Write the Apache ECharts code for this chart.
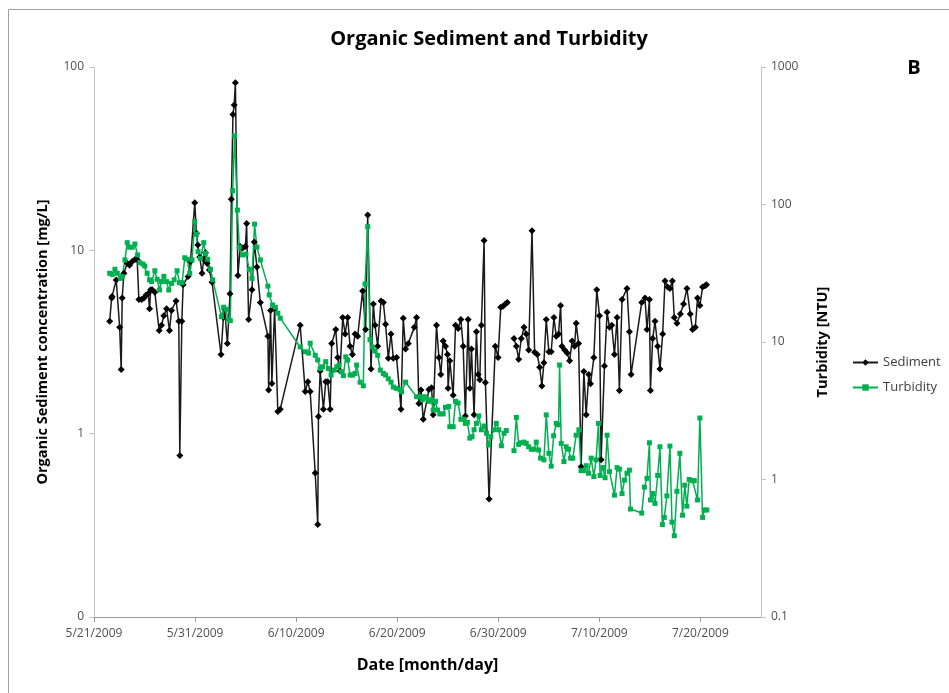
<!DOCTYPE html>
<html>
<head>
<meta charset="utf-8">
<script src="https://cdn.jsdelivr.net/npm/echarts@6/dist/echarts.min.js"></script>
<style>
html,body{margin:0;padding:0;background:#fff;}
#chart{width:949px;height:693px;}
</style>
</head>
<body>
<div id="chart"></div>
<script>
// Days after 5/21/2009 for each sediment sample, and values [mg/L] (null = gap)
var sedDays = [
1.55,1.75,1.78,2.20,2.54,2.69,2.79,2.96,3.29,3.52,
3.78,4.05,4.27,4.44,4.71,4.94,5.16,5.36,5.50,5.60,
5.76,6.02,6.45,6.68,6.91,7.18,7.47,7.67,8.12,8.39,
8.49,8.69,8.82,9.31,9.55,9.97,10.14,10.27,10.46,10.69,
10.86,11.03,11.18,11.42,11.68,12.57,12.80,12.93,13.20,13.46,
13.59,13.75,13.87,13.99,14.24,14.48,14.71,14.98,15.10,15.30,
15.63,15.86,16.12,16.46,17.21,17.28,17.47,17.60,17.87,18.19,
18.43,20.40,20.90,21.16,21.39,21.89,22.14,22.21,22.38,22.70,
22.93,23.13,23.37,23.52,23.92,24.12,24.35,24.61,24.85,25.10,
25.34,25.57,25.83,26.09,26.58,26.88,27.08,27.41,27.64,27.81,
28.07,28.40,28.63,28.85,29.12,29.39,29.62,29.94,30.38,30.60,
30.83,31.10,31.69,31.92,32.15,32.35,32.58,33.14,33.40,33.56,
33.89,34.13,34.32,34.55,34.78,34.98,35.04,35.21,35.54,35.77,
36.03,36.30,36.53,36.75,37.02,37.19,37.35,37.61,37.84,38.01,
38.17,38.33,38.60,38.73,39.09,39.71,39.98,40.25,40.47,40.70,
40.90,41.20,41.56,41.79,42.02,42.28,42.55,42.77,43.01,43.34,
43.60,43.86,44.10,44.32,44.52,44.75,45.01,45.24,45.51,45.74,
45.97,46.17,46.30,46.57,46.82,47.06,47.31,47.55,47.71,47.95,
48.20,48.47,48.70,48.96,49.13,49.46,49.75,50.02,50.18,50.51,
50.77,51.01,51.23,51.50,51.76,51.99,52.25,52.74,52.98,53.14,
54.20,54.52,54.72,54.96,55.06,55.28,55.51,55.78,56.00,56.27,
56.50,56.76,56.99,57.23,57.42,57.68,58.02,58.34,58.67,59.00,
59.23,59.50,59.72,59.95,60.22,60.45,60.61
];
var sedVals = [
4.1,5.5,5.6,6.9,3.8,2.24,5.5,7.5,8.5,8.3,
8.7,8.9,8.9,5.4,5.4,5.5,5.7,5.8,4.8,6.1,
6.1,5.9,3.65,3.9,4.4,4.8,3.65,4.7,5.3,4.1,
0.76,4.1,6.5,7.2,8.7,18.2,12.4,10.7,9.2,7.5,
8.9,9.7,8.5,7.8,6.7,2.7,4.3,4.8,3.1,5.8,
19,55,62,82,7.3,10.5,10.3,10.5,14,4.2,
6.1,11.1,8.1,5.2,3.4,1.73,4.7,1.88,4.8,1.32,
1.36,3.9,1.7,1.92,1.7,0.61,0.32,1.24,2.2,1.36,
1.92,1.92,1.36,3.1,3.7,2.6,2.2,4.3,3.5,4.3,
3.0,2.7,3.5,3.4,6.0,3.7,15.6,2.25,5.1,3.9,
3.0,5.3,5.2,3.95,2.58,3.5,2.58,2.6,1.36,4.26,
2.9,3.1,3.8,4.3,1.46,1.73,1.2,1.74,1.78,1.27,
3.9,2.6,2.1,3.2,3.0,2.7,1.77,2.5,1.62,3.9,
3.75,4.2,3.0,1.25,4.2,1.77,2.9,1.27,3.6,2.1,
1.97,3.9,11.3,1.9,0.44,3.0,2.6,4.9,4.95,5.1,
5.2,null,3.3,3.0,2.55,3.3,3.8,3.5,2.86,12.8,
2.78,2.7,2.3,1.82,2.44,4.2,2.8,2.8,4.3,3.4,
3.5,5.0,3.0,2.86,2.75,2.5,3.2,3.0,4.0,3.1,
0.66,2.18,1.27,2.1,1.87,2.6,6.1,4.4,0.72,2.34,
4.6,3.8,3.9,2.7,4.3,1.72,5.4,6.2,3.6,2.1,
5.2,5.5,3.7,5.4,1.72,3.3,4.1,3.0,2.25,3.5,
6.8,6.3,6.2,6.8,4.3,4.0,4.5,5.1,6.2,4.5,
3.7,3.8,5.5,5.0,6.3,6.4,6.5
];
// Days after 5/21/2009 for each turbidity reading, and values [NTU] (null = gap)
var turbDays = [
1.55,1.81,2.07,2.30,2.64,2.79,3.06,3.29,3.52,3.78,
4.05,4.31,4.54,4.84,5.03,5.26,5.50,5.70,6.02,6.25,
6.49,6.68,6.91,7.18,7.40,7.67,7.93,8.22,8.46,8.72,
8.98,9.21,9.48,9.70,9.97,10.14,10.30,10.53,10.86,11.03,
11.25,11.52,11.75,12.61,12.83,13.06,13.26,13.49,13.72,13.92,
14.19,14.38,14.71,15.03,15.37,15.63,15.89,16.12,16.46,17.21,
17.34,17.67,17.94,18.19,18.43,20.40,20.90,21.22,21.39,21.89,
22.14,22.38,22.61,22.93,23.20,23.46,23.79,24.02,24.25,24.45,
24.68,24.91,25.10,25.34,25.60,25.83,25.99,26.33,26.65,26.82,
27.08,27.31,27.54,27.81,28.07,28.33,28.63,28.85,29.12,29.39,
29.62,29.94,30.28,30.43,30.83,31.92,32.25,32.48,32.68,32.90,
33.14,33.40,33.56,33.79,33.99,34.22,34.55,34.78,35.11,35.21,
35.54,35.77,36.03,36.30,36.62,36.75,36.95,37.19,37.41,37.61,
37.84,38.08,38.33,38.60,38.83,39.06,39.26,39.59,39.81,40.05,
40.31,40.57,40.80,41.20,41.56,41.79,42.02,42.28,42.55,42.77,
43.01,43.27,43.53,43.76,44.00,44.19,44.52,44.75,45.01,45.24,
45.48,45.74,45.97,46.07,46.23,46.50,46.72,46.96,47.16,47.38,
47.71,47.98,48.20,48.47,48.70,48.93,49.19,49.46,49.68,49.92,
50.08,50.35,50.57,50.77,51.01,51.50,51.76,51.99,52.25,52.49,
52.74,52.98,53.08,54.20,54.46,54.72,54.96,55.06,55.28,55.51,
55.78,56.00,56.24,56.43,56.69,56.99,57.19,57.42,57.68,57.97,
58.24,58.46,58.66,58.90,59.23,59.40,59.72,59.95,60.22,60.38,
60.64
];
var turbVals = [
31.6,31,33.8,31.6,29,30,39.5,52.8,48.9,48.9,
51.6,43,37.8,36.9,35.7,31.6,28.3,27.5,33,28.6,
23.9,27.5,30,27.5,23.9,26.7,28.3,33,27,27,
41,40,31.6,39.5,75,60.7,45.4,40.6,52.8,44,
40,33.8,28.3,15.3,17.9,17.3,14.6,14.3,126,316,
91,49,43,43.6,33.8,29,72,49,39.5,25.5,
22,18.6,17.9,16.2,14.9,9.2,8.5,8.3,9.8,8.0,
7.4,6.4,6.6,7.2,6.4,5.75,6.25,6.6,6.8,6.1,
5.7,7.8,7.4,5.75,5.75,5.9,6.8,5.1,4.8,26.4,
69,10.4,9.2,8.6,8.0,6.25,5.9,5.75,5.4,5.1,
4.7,4.6,4.5,4.35,5.1,4.0,4.0,3.8,4.0,3.9,
3.7,3.8,3.2,3.7,3.2,3.0,3.0,3.35,3.4,2.42,
2.42,3.7,3.6,2.74,2.74,2.56,2.6,2.0,2.05,2.3,
2.56,2.9,2.3,2.45,2.17,1.78,2.05,2.3,2.56,2.3,
1.76,2.17,2.27,null,1.62,2.83,1.8,1.85,1.87,1.83,
1.73,1.66,1.66,1.87,1.64,1.43,1.39,2.95,1.55,1.25,
2.08,2.56,2.5,6.8,1.83,1.35,1.73,1.66,1.43,1.43,
2.1,2.3,1.16,1.16,1.26,1.11,1.43,1.05,1.39,2.56,
1.07,1.22,1.03,2.1,1.14,0.77,1.22,1.19,0.79,0.99,
1.11,1.17,0.61,0.57,0.88,1.02,1.85,0.71,0.79,0.67,
1.07,1.73,0.47,0.53,0.76,1.75,0.49,0.39,0.82,1.55,
0.55,0.91,0.64,1.0,0.98,0.98,0.71,2.8,0.53,0.6,
0.6
];
var startDate = Date.UTC(2009, 4, 21);
var leftTicks = [0.1, 1, 10, 100];
var rightTicks = [0.1, 1, 10, 100, 1000];

function pairs(days, vals) {
  var out = [];
  for (var i = 0; i < days.length; i++) {
    out.push([days[i], vals[i] == null ? '-' : vals[i]]);
  }
  return out;
}
function dateLabel(v) {
  var d = new Date(startDate + v * 86400000);
  return (d.getUTCMonth() + 1) + '/' + d.getUTCDate() + '/' + d.getUTCFullYear();
}

var FONT = '"Open Sans", "Liberation Sans", Arial, sans-serif';
var chart = echarts.init(document.getElementById('chart'), null, {renderer: 'canvas'});
chart.setOption({
  animation: false,
  backgroundColor: '#fff',
  textStyle: {fontFamily: FONT},
  title: {
    text: 'Organic Sediment and Turbidity',
    left: 484, top: 24, textAlign: 'center',
    textStyle: {fontFamily: FONT, fontSize: 20, fontWeight: 'bold', color: '#000'}
  },
  graphic: [
    {type: 'rect', shape: {x: 8.5, y: 9.5, width: 1000, height: 1000}, style: {fill: 'none', stroke: '#a0a0a0', lineWidth: 1}, silent: true},
    {type: 'text', x: 914, y: 68, style: {text: 'B', fontFamily: FONT, fontSize: 20, fontWeight: 'bold', fill: '#000', textAlign: 'center', textVerticalAlign: 'middle'}}
  ],
  legend: {
    orient: 'vertical', left: 847, top: 351,
    itemWidth: 25, itemHeight: 8, itemGap: 12,
    textStyle: {fontFamily: FONT, fontSize: 13, color: '#404040'},
    data: ['Sediment', 'Turbidity']
  },
  grid: {left: 94, right: 188, top: 67, bottom: 76},
  xAxis: {
    type: 'value', min: 0, max: 66, interval: 10,
    name: 'Date [month/day]', nameLocation: 'middle', nameGap: 40,
    nameTextStyle: {fontFamily: FONT, fontSize: 16, fontWeight: 'bold', color: '#000'},
    axisLine: {lineStyle: {color: '#9a9a9a', width: 1}},
    axisTick: {length: 5, lineStyle: {color: '#9a9a9a'}},
    splitLine: {show: false},
    axisLabel: {formatter: dateLabel, showMaxLabel: false, margin: 11, fontSize: 12, color: '#505050', fontFamily: FONT}
  },
  yAxis: [
    {
      type: 'log', logBase: 10, min: leftTicks[0], max: leftTicks[leftTicks.length - 1],
      position: 'left',
      name: 'Organic Sediment concentration [mg/L]', nameLocation: 'middle', nameGap: 44, nameRotate: 90,
      nameTextStyle: {fontFamily: FONT, fontSize: 14.5, fontWeight: 'bold', color: '#000'},
      axisLine: {show: true, lineStyle: {color: '#c4c4c4', width: 1}},
      axisTick: {show: true, length: 5, lineStyle: {color: '#c4c4c4'}},
      splitLine: {show: false},
      axisLabel: {formatter: function (v) { return String(Math.round(v)); }, margin: 10, fontSize: 12, color: '#505050', fontFamily: FONT}
    },
    {
      type: 'log', logBase: 10, min: rightTicks[0], max: rightTicks[rightTicks.length - 1],
      position: 'right',
      name: 'Turbidity [NTU]', nameLocation: 'middle', nameGap: 54, nameRotate: 90,
      nameTextStyle: {fontFamily: FONT, fontSize: 14.5, fontWeight: 'bold', color: '#000'},
      axisLine: {show: true, lineStyle: {color: '#c4c4c4', width: 1}},
      axisTick: {show: true, length: 5, lineStyle: {color: '#c4c4c4'}},
      splitLine: {show: false},
      axisLabel: {formatter: function (v) { return String(+v.toPrecision(3)); }, margin: 10, fontSize: 12, color: '#505050', fontFamily: FONT}
    }
  ],
  series: [
    {
      name: 'Sediment', type: 'line', yAxisIndex: 0,
      symbol: 'diamond', symbolSize: 7, showAllSymbol: true,
      itemStyle: {color: '#000'},
      lineStyle: {color: '#1a1a1a', width: 1.5},
      connectNulls: false,
      data: pairs(sedDays, sedVals)
    },
    {
      name: 'Turbidity', type: 'line', yAxisIndex: 1,
      symbol: 'rect', symbolSize: 5, showAllSymbol: true,
      itemStyle: {color: '#00b050'},
      lineStyle: {color: '#00b050', width: 1.5},
      connectNulls: false,
      data: pairs(turbDays, turbVals)
    }
  ]
});
if (sedDays.length !== sedVals.length || turbDays.length !== turbVals.length) {
  console.error('length mismatch', sedDays.length, sedVals.length, turbDays.length, turbVals.length);
}
</script>
</body>
</html>
